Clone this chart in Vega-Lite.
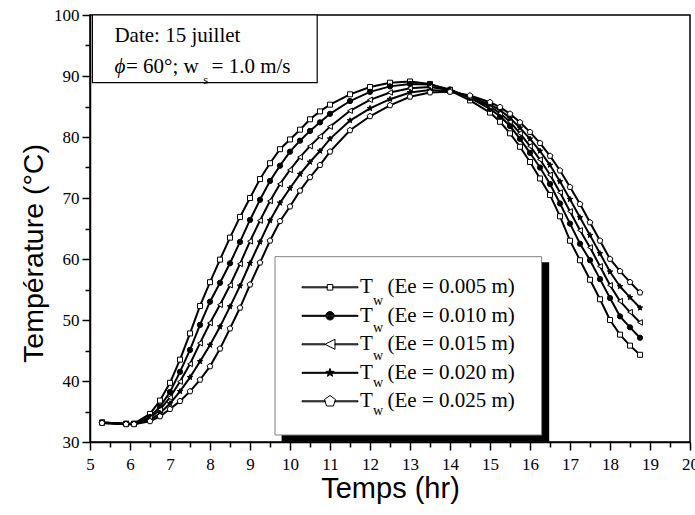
{
  "$schema": "https://vega.github.io/schema/vega-lite/v6.json",
  "width": 600,
  "height": 427,
  "autosize": {"type": "none"},
  "padding": {"left": 90, "top": 15, "right": 5, "bottom": 73},
  "background": "white",
  "config": {
    "view": {"stroke": "black", "strokeWidth": 1.5},
    "axis": {"grid": false, "labelFlush": false, "labelOverlap": false, "labelBound": false,
      "labelFont": "Liberation Serif", "labelFontSize": 17, "labelColor": "black",
      "domainColor": "black", "domainWidth": 1.5, "tickColor": "black", "tickWidth": 1.5,
      "titleFont": "Liberation Sans", "titleFontWeight": "normal", "titleColor": "black"},
    "axisX": {"labelPadding": 6, "titleFontSize": 29, "titlePadding": 2},
    "axisY": {"labelPadding": 3, "titleFontSize": 28.5, "titlePadding": 5}
  },
  "data": {"values": [
{"t":5.3,"s":"0.005","v":33.2},{"t":5.9,"s":"0.005","v":33.0},{"t":6.1,"s":"0.005","v":33.0},{"t":6.5,"s":"0.005","v":34.6},{"t":6.75,"s":"0.005","v":36.8},{"t":7,"s":"0.005","v":39.7},{"t":7.25,"s":"0.005","v":43.5},{"t":7.5,"s":"0.005","v":47.8},{"t":7.75,"s":"0.005","v":52.3},{"t":8,"s":"0.005","v":56.2},{"t":8.25,"s":"0.005","v":59.9},{"t":8.5,"s":"0.005","v":63.5},{"t":8.75,"s":"0.005","v":66.9},{"t":9,"s":"0.005","v":70.0},{"t":9.25,"s":"0.005","v":73.1},{"t":9.5,"s":"0.005","v":75.7},{"t":9.75,"s":"0.005","v":78.0},{"t":10,"s":"0.005","v":79.6},{"t":10.25,"s":"0.005","v":81.2},{"t":10.5,"s":"0.005","v":82.9},{"t":10.75,"s":"0.005","v":84.2},{"t":11,"s":"0.005","v":85.3},{"t":11.5,"s":"0.005","v":87.0},{"t":12,"s":"0.005","v":88.2},{"t":12.5,"s":"0.005","v":88.9},{"t":13,"s":"0.005","v":89.1},{"t":13.5,"s":"0.005","v":88.7},{"t":14,"s":"0.005","v":87.6},{"t":14.5,"s":"0.005","v":86.0},{"t":15,"s":"0.005","v":84.0},{"t":15.25,"s":"0.005","v":82.5},{"t":15.5,"s":"0.005","v":80.6},{"t":15.75,"s":"0.005","v":78.4},{"t":16,"s":"0.005","v":75.9},{"t":16.25,"s":"0.005","v":73.2},{"t":16.5,"s":"0.005","v":70.5},{"t":16.75,"s":"0.005","v":67.0},{"t":17,"s":"0.005","v":63.0},{"t":17.25,"s":"0.005","v":59.8},{"t":17.5,"s":"0.005","v":56.6},{"t":17.75,"s":"0.005","v":53.4},{"t":18,"s":"0.005","v":50.0},{"t":18.25,"s":"0.005","v":47.6},{"t":18.5,"s":"0.005","v":45.8},{"t":18.75,"s":"0.005","v":44.3},
{"t":5.3,"s":"0.010","v":33.2},{"t":5.9,"s":"0.010","v":33.0},{"t":6.1,"s":"0.010","v":33.0},{"t":6.5,"s":"0.010","v":34.1},{"t":6.75,"s":"0.010","v":35.8},{"t":7,"s":"0.010","v":38.2},{"t":7.25,"s":"0.010","v":41.5},{"t":7.5,"s":"0.010","v":45.1},{"t":7.75,"s":"0.010","v":49.2},{"t":8,"s":"0.010","v":53.0},{"t":8.25,"s":"0.010","v":56.1},{"t":8.5,"s":"0.010","v":59.3},{"t":8.75,"s":"0.010","v":62.8},{"t":9,"s":"0.010","v":66.4},{"t":9.25,"s":"0.010","v":69.7},{"t":9.5,"s":"0.010","v":72.8},{"t":9.75,"s":"0.010","v":75.3},{"t":10,"s":"0.010","v":77.6},{"t":10.25,"s":"0.010","v":79.4},{"t":10.5,"s":"0.010","v":81.0},{"t":10.75,"s":"0.010","v":82.4},{"t":11,"s":"0.010","v":83.8},{"t":11.5,"s":"0.010","v":85.9},{"t":12,"s":"0.010","v":87.4},{"t":12.5,"s":"0.010","v":88.3},{"t":13,"s":"0.010","v":88.7},{"t":13.5,"s":"0.010","v":88.6},{"t":14,"s":"0.010","v":87.8},{"t":14.5,"s":"0.010","v":86.4},{"t":15,"s":"0.010","v":84.6},{"t":15.25,"s":"0.010","v":83.4},{"t":15.5,"s":"0.010","v":81.8},{"t":15.75,"s":"0.010","v":79.7},{"t":16,"s":"0.010","v":77.4},{"t":16.25,"s":"0.010","v":75.0},{"t":16.5,"s":"0.010","v":72.3},{"t":16.75,"s":"0.010","v":69.1},{"t":17,"s":"0.010","v":65.8},{"t":17.25,"s":"0.010","v":62.5},{"t":17.5,"s":"0.010","v":59.8},{"t":17.75,"s":"0.010","v":56.7},{"t":18,"s":"0.010","v":53.6},{"t":18.25,"s":"0.010","v":50.6},{"t":18.5,"s":"0.010","v":48.8},{"t":18.75,"s":"0.010","v":47.1},
{"t":5.3,"s":"0.015","v":33.2},{"t":5.9,"s":"0.015","v":33.0},{"t":6.1,"s":"0.015","v":33.0},{"t":6.5,"s":"0.015","v":33.9},{"t":6.75,"s":"0.015","v":35.3},{"t":7,"s":"0.015","v":37.3},{"t":7.25,"s":"0.015","v":39.9},{"t":7.5,"s":"0.015","v":42.8},{"t":7.75,"s":"0.015","v":46.2},{"t":8,"s":"0.015","v":49.5},{"t":8.25,"s":"0.015","v":52.5},{"t":8.5,"s":"0.015","v":55.7},{"t":8.75,"s":"0.015","v":59.2},{"t":9,"s":"0.015","v":62.9},{"t":9.25,"s":"0.015","v":66.3},{"t":9.5,"s":"0.015","v":69.5},{"t":9.75,"s":"0.015","v":72.3},{"t":10,"s":"0.015","v":74.6},{"t":10.25,"s":"0.015","v":76.7},{"t":10.5,"s":"0.015","v":78.5},{"t":10.75,"s":"0.015","v":80.1},{"t":11,"s":"0.015","v":81.7},{"t":11.5,"s":"0.015","v":84.3},{"t":12,"s":"0.015","v":86.1},{"t":12.5,"s":"0.015","v":87.3},{"t":13,"s":"0.015","v":88.0},{"t":13.5,"s":"0.015","v":88.2},{"t":14,"s":"0.015","v":87.7},{"t":14.5,"s":"0.015","v":86.5},{"t":15,"s":"0.015","v":85.0},{"t":15.25,"s":"0.015","v":83.9},{"t":15.5,"s":"0.015","v":82.5},{"t":15.75,"s":"0.015","v":80.6},{"t":16,"s":"0.015","v":78.5},{"t":16.25,"s":"0.015","v":76.3},{"t":16.5,"s":"0.015","v":73.8},{"t":16.75,"s":"0.015","v":70.9},{"t":17,"s":"0.015","v":67.8},{"t":17.25,"s":"0.015","v":64.7},{"t":17.5,"s":"0.015","v":61.9},{"t":17.75,"s":"0.015","v":58.8},{"t":18,"s":"0.015","v":55.7},{"t":18.25,"s":"0.015","v":53.1},{"t":18.5,"s":"0.015","v":51.3},{"t":18.75,"s":"0.015","v":49.6},
{"t":5.3,"s":"0.020","v":33.1},{"t":5.9,"s":"0.020","v":32.9},{"t":6.1,"s":"0.020","v":32.9},{"t":6.5,"s":"0.020","v":33.6},{"t":6.75,"s":"0.020","v":34.7},{"t":7,"s":"0.020","v":36.3},{"t":7.25,"s":"0.020","v":38.3},{"t":7.5,"s":"0.020","v":40.6},{"t":7.75,"s":"0.020","v":43.2},{"t":8,"s":"0.020","v":45.9},{"t":8.25,"s":"0.020","v":48.9},{"t":8.5,"s":"0.020","v":52.2},{"t":8.75,"s":"0.020","v":55.6},{"t":9,"s":"0.020","v":59.3},{"t":9.25,"s":"0.020","v":62.8},{"t":9.5,"s":"0.020","v":66.3},{"t":9.75,"s":"0.020","v":69.2},{"t":10,"s":"0.020","v":71.6},{"t":10.25,"s":"0.020","v":73.9},{"t":10.5,"s":"0.020","v":75.9},{"t":10.75,"s":"0.020","v":77.7},{"t":11,"s":"0.020","v":79.7},{"t":11.5,"s":"0.020","v":82.7},{"t":12,"s":"0.020","v":84.7},{"t":12.5,"s":"0.020","v":86.2},{"t":13,"s":"0.020","v":87.3},{"t":13.5,"s":"0.020","v":87.7},{"t":14,"s":"0.020","v":87.5},{"t":14.5,"s":"0.020","v":86.7},{"t":15,"s":"0.020","v":85.3},{"t":15.25,"s":"0.020","v":84.4},{"t":15.5,"s":"0.020","v":83.1},{"t":15.75,"s":"0.020","v":81.5},{"t":16,"s":"0.020","v":79.7},{"t":16.25,"s":"0.020","v":77.7},{"t":16.5,"s":"0.020","v":75.4},{"t":16.75,"s":"0.020","v":72.7},{"t":17,"s":"0.020","v":69.8},{"t":17.25,"s":"0.020","v":66.8},{"t":17.5,"s":"0.020","v":63.9},{"t":17.75,"s":"0.020","v":60.9},{"t":18,"s":"0.020","v":57.9},{"t":18.25,"s":"0.020","v":55.5},{"t":18.5,"s":"0.020","v":53.7},{"t":18.75,"s":"0.020","v":52.0},
{"t":5.3,"s":"0.025","v":33.1},{"t":5.9,"s":"0.025","v":32.9},{"t":6.1,"s":"0.025","v":32.9},{"t":6.5,"s":"0.025","v":33.4},{"t":6.75,"s":"0.025","v":34.2},{"t":7,"s":"0.025","v":35.4},{"t":7.25,"s":"0.025","v":36.7},{"t":7.5,"s":"0.025","v":38.3},{"t":7.75,"s":"0.025","v":40.2},{"t":8,"s":"0.025","v":42.4},{"t":8.25,"s":"0.025","v":45.3},{"t":8.5,"s":"0.025","v":48.6},{"t":8.75,"s":"0.025","v":52.0},{"t":9,"s":"0.025","v":55.8},{"t":9.25,"s":"0.025","v":59.4},{"t":9.5,"s":"0.025","v":63.0},{"t":9.75,"s":"0.025","v":66.2},{"t":10,"s":"0.025","v":68.6},{"t":10.25,"s":"0.025","v":71.2},{"t":10.5,"s":"0.025","v":73.4},{"t":10.75,"s":"0.025","v":75.4},{"t":11,"s":"0.025","v":77.6},{"t":11.5,"s":"0.025","v":81.1},{"t":12,"s":"0.025","v":83.4},{"t":12.5,"s":"0.025","v":85.2},{"t":13,"s":"0.025","v":86.6},{"t":13.5,"s":"0.025","v":87.3},{"t":14,"s":"0.025","v":87.4},{"t":14.5,"s":"0.025","v":86.8},{"t":15,"s":"0.025","v":85.7},{"t":15.25,"s":"0.025","v":84.9},{"t":15.5,"s":"0.025","v":83.8},{"t":15.75,"s":"0.025","v":82.4},{"t":16,"s":"0.025","v":80.8},{"t":16.25,"s":"0.025","v":79.0},{"t":16.5,"s":"0.025","v":76.9},{"t":16.75,"s":"0.025","v":74.5},{"t":17,"s":"0.025","v":71.8},{"t":17.25,"s":"0.025","v":69.0},{"t":17.5,"s":"0.025","v":66.0},{"t":17.75,"s":"0.025","v":63.0},{"t":18,"s":"0.025","v":60.0},{"t":18.25,"s":"0.025","v":58.0},{"t":18.5,"s":"0.025","v":56.2},{"t":18.75,"s":"0.025","v":54.5}
  ]},
  "layer": [
    {"mark": {"type": "line", "color": "black", "strokeWidth": 2},
     "encoding": {
      "x": {"field": "t", "type": "quantitative", "title": "Temps (hr)", "scale": {"domain": [5, 20], "nice": false, "zero": false},
        "axis": {"values": [5,5.5,6,6.5,7,7.5,8,8.5,9,9.5,10,10.5,11,11.5,12,12.5,13,13.5,14,14.5,15,15.5,16,16.5,17,17.5,18,18.5,19,19.5,20], "labelExpr": "datum.value % 1 === 0 ? format(datum.value, 'd') : ''", "tickSize": {"condition": {"test": "datum.value % 1 === 0", "value": 8}, "value": 5}, "grid": false, "labelFlush": false, "labelOverlap": false, "labelBound": false, "labelFont": "Liberation Serif", "labelFontSize": 17, "labelColor": "black", "labelPadding": 6, "domainColor": "black", "domainWidth": 1.5, "tickColor": "black", "tickWidth": 1.5, "titleFont": "Liberation Sans", "titleFontSize": 29, "titleFontWeight": "normal", "titleColor": "black", "titlePadding": 2}},
      "y": {"field": "v", "type": "quantitative", "title": "Température (°C)", "scale": {"domain": [30, 100], "nice": false, "zero": false},
        "axis": {"values": [30,35,40,45,50,55,60,65,70,75,80,85,90,95,100], "labelExpr": "datum.value % 10 === 0 ? format(datum.value, 'd') : ''", "tickSize": {"condition": {"test": "datum.value % 10 === 0", "value": 8}, "value": 5}, "grid": false, "labelFlush": false, "labelOverlap": false, "labelBound": false, "labelFont": "Liberation Serif", "labelFontSize": 17, "labelColor": "black", "labelPadding": 3, "domainColor": "black", "domainWidth": 1.5, "tickColor": "black", "tickWidth": 1.5, "titleFont": "Liberation Sans", "titleFontSize": 28.5, "titleFontWeight": "normal", "titleColor": "black", "titlePadding": 5, "titleY": 238}},
      "detail": {"field": "s"}}},
    {"mark": {"type": "point", "filled": true, "stroke": "black", "strokeWidth": 1, "opacity": 1},
     "encoding": {
      "x": {"field": "t", "type": "quantitative", "title": "Temps (hr)", "scale": {"domain": [5, 20], "nice": false, "zero": false},
        "axis": {"values": [5,5.5,6,6.5,7,7.5,8,8.5,9,9.5,10,10.5,11,11.5,12,12.5,13,13.5,14,14.5,15,15.5,16,16.5,17,17.5,18,18.5,19,19.5,20], "labelExpr": "datum.value % 1 === 0 ? format(datum.value, 'd') : ''", "tickSize": {"condition": {"test": "datum.value % 1 === 0", "value": 8}, "value": 5}, "grid": false, "labelFlush": false, "labelOverlap": false, "labelBound": false, "labelFont": "Liberation Serif", "labelFontSize": 17, "labelColor": "black", "labelPadding": 6, "domainColor": "black", "domainWidth": 1.5, "tickColor": "black", "tickWidth": 1.5, "titleFont": "Liberation Sans", "titleFontSize": 29, "titleFontWeight": "normal", "titleColor": "black", "titlePadding": 2}},
      "y": {"field": "v", "type": "quantitative", "title": "Température (°C)", "scale": {"domain": [30, 100], "nice": false, "zero": false},
        "axis": {"values": [30,35,40,45,50,55,60,65,70,75,80,85,90,95,100], "labelExpr": "datum.value % 10 === 0 ? format(datum.value, 'd') : ''", "tickSize": {"condition": {"test": "datum.value % 10 === 0", "value": 8}, "value": 5}, "grid": false, "labelFlush": false, "labelOverlap": false, "labelBound": false, "labelFont": "Liberation Serif", "labelFontSize": 17, "labelColor": "black", "labelPadding": 3, "domainColor": "black", "domainWidth": 1.5, "tickColor": "black", "tickWidth": 1.5, "titleFont": "Liberation Sans", "titleFontSize": 28.5, "titleFontWeight": "normal", "titleColor": "black", "titlePadding": 5, "titleY": 238}},
       "shape": {"field": "s", "type": "nominal", "legend": null,
         "scale": {"range": ["square", "circle", "triangle-left", "M0,-1L0.235,-0.324L0.951,-0.309L0.38,0.124L0.588,0.809L0,0.4L-0.588,0.809L-0.38,0.124L-0.951,-0.309L-0.235,-0.324Z", "M0,-1L0.951,-0.309L0.588,0.809L-0.588,0.809L-0.951,-0.309Z"]}},
       "fill": {"field": "s", "type": "nominal", "legend": null, "scale": {"range": ["white", "black", "white", "black", "white"]}},
       "size": {"field": "s", "type": "nominal", "legend": null, "scale": {"range": [25, 36, 70, 70, 80]}}
     }},
    {"data": {"values": [{"k": 1}]}, "mark": {"type": "rect", "fill": "black"},
     "encoding": {
      "x": {"datum": 9.79, "type": "quantitative", "title": "Temps (hr)", "scale": {"domain": [5, 20], "nice": false, "zero": false},
        "axis": {"values": [5,5.5,6,6.5,7,7.5,8,8.5,9,9.5,10,10.5,11,11.5,12,12.5,13,13.5,14,14.5,15,15.5,16,16.5,17,17.5,18,18.5,19,19.5,20], "labelExpr": "datum.value % 1 === 0 ? format(datum.value, 'd') : ''", "tickSize": {"condition": {"test": "datum.value % 1 === 0", "value": 8}, "value": 5}, "grid": false, "labelFlush": false, "labelOverlap": false, "labelBound": false, "labelFont": "Liberation Serif", "labelFontSize": 17, "labelColor": "black", "labelPadding": 6, "domainColor": "black", "domainWidth": 1.5, "tickColor": "black", "tickWidth": 1.5, "titleFont": "Liberation Sans", "titleFontSize": 29, "titleFontWeight": "normal", "titleColor": "black", "titlePadding": 2}},
      "y": {"datum": 59.46, "type": "quantitative", "title": "Température (°C)", "scale": {"domain": [30, 100], "nice": false, "zero": false},
        "axis": {"values": [30,35,40,45,50,55,60,65,70,75,80,85,90,95,100], "labelExpr": "datum.value % 10 === 0 ? format(datum.value, 'd') : ''", "tickSize": {"condition": {"test": "datum.value % 10 === 0", "value": 8}, "value": 5}, "grid": false, "labelFlush": false, "labelOverlap": false, "labelBound": false, "labelFont": "Liberation Serif", "labelFontSize": 17, "labelColor": "black", "labelPadding": 3, "domainColor": "black", "domainWidth": 1.5, "tickColor": "black", "tickWidth": 1.5, "titleFont": "Liberation Sans", "titleFontSize": 28.5, "titleFontWeight": "normal", "titleColor": "black", "titlePadding": 5, "titleY": 238}},
      "x2": {"datum": 16.48}, "y2": {"datum": 30.05}}},
    {"data": {"values": [{"k": 1}]}, "mark": {"type": "rect", "fill": "white", "stroke": "#808080", "strokeWidth": 1},
     "encoding": {
      "x": {"datum": 9.625, "type": "quantitative", "title": "Temps (hr)", "scale": {"domain": [5, 20], "nice": false, "zero": false},
        "axis": {"values": [5,5.5,6,6.5,7,7.5,8,8.5,9,9.5,10,10.5,11,11.5,12,12.5,13,13.5,14,14.5,15,15.5,16,16.5,17,17.5,18,18.5,19,19.5,20], "labelExpr": "datum.value % 1 === 0 ? format(datum.value, 'd') : ''", "tickSize": {"condition": {"test": "datum.value % 1 === 0", "value": 8}, "value": 5}, "grid": false, "labelFlush": false, "labelOverlap": false, "labelBound": false, "labelFont": "Liberation Serif", "labelFontSize": 17, "labelColor": "black", "labelPadding": 6, "domainColor": "black", "domainWidth": 1.5, "tickColor": "black", "tickWidth": 1.5, "titleFont": "Liberation Sans", "titleFontSize": 29, "titleFontWeight": "normal", "titleColor": "black", "titlePadding": 2}},
      "y": {"datum": 60.38, "type": "quantitative", "title": "Température (°C)", "scale": {"domain": [30, 100], "nice": false, "zero": false},
        "axis": {"values": [30,35,40,45,50,55,60,65,70,75,80,85,90,95,100], "labelExpr": "datum.value % 10 === 0 ? format(datum.value, 'd') : ''", "tickSize": {"condition": {"test": "datum.value % 10 === 0", "value": 8}, "value": 5}, "grid": false, "labelFlush": false, "labelOverlap": false, "labelBound": false, "labelFont": "Liberation Serif", "labelFontSize": 17, "labelColor": "black", "labelPadding": 3, "domainColor": "black", "domainWidth": 1.5, "tickColor": "black", "tickWidth": 1.5, "titleFont": "Liberation Sans", "titleFontSize": 28.5, "titleFontWeight": "normal", "titleColor": "black", "titlePadding": 5, "titleY": 238}},
      "x2": {"datum": 16.29}, "y2": {"datum": 31.15}}},
    {"data": {"values": [{"k": 1}]}, "mark": {"type": "rect", "fill": "white", "stroke": "black", "strokeWidth": 1.2},
     "encoding": {
      "x": {"datum": 5.06, "type": "quantitative", "title": "Temps (hr)", "scale": {"domain": [5, 20], "nice": false, "zero": false},
        "axis": {"values": [5,5.5,6,6.5,7,7.5,8,8.5,9,9.5,10,10.5,11,11.5,12,12.5,13,13.5,14,14.5,15,15.5,16,16.5,17,17.5,18,18.5,19,19.5,20], "labelExpr": "datum.value % 1 === 0 ? format(datum.value, 'd') : ''", "tickSize": {"condition": {"test": "datum.value % 1 === 0", "value": 8}, "value": 5}, "grid": false, "labelFlush": false, "labelOverlap": false, "labelBound": false, "labelFont": "Liberation Serif", "labelFontSize": 17, "labelColor": "black", "labelPadding": 6, "domainColor": "black", "domainWidth": 1.5, "tickColor": "black", "tickWidth": 1.5, "titleFont": "Liberation Sans", "titleFontSize": 29, "titleFontWeight": "normal", "titleColor": "black", "titlePadding": 2}},
      "y": {"datum": 100, "type": "quantitative", "title": "Température (°C)", "scale": {"domain": [30, 100], "nice": false, "zero": false},
        "axis": {"values": [30,35,40,45,50,55,60,65,70,75,80,85,90,95,100], "labelExpr": "datum.value % 10 === 0 ? format(datum.value, 'd') : ''", "tickSize": {"condition": {"test": "datum.value % 10 === 0", "value": 8}, "value": 5}, "grid": false, "labelFlush": false, "labelOverlap": false, "labelBound": false, "labelFont": "Liberation Serif", "labelFontSize": 17, "labelColor": "black", "labelPadding": 3, "domainColor": "black", "domainWidth": 1.5, "tickColor": "black", "tickWidth": 1.5, "titleFont": "Liberation Sans", "titleFontSize": 28.5, "titleFontWeight": "normal", "titleColor": "black", "titlePadding": 5, "titleY": 238}},
      "x2": {"datum": 10.68}, "y2": {"datum": 88.9}}},
    {"data": {"values": [{"k": 1}]}, "mark": {"type": "text", "text": "Date: 15 juillet", "align": "left", "baseline": "alphabetic", "font": "Liberation Serif", "fontSize": 21, "color": "black"},
     "encoding": {
      "x": {"datum": 5.61, "type": "quantitative", "title": "Temps (hr)", "scale": {"domain": [5, 20], "nice": false, "zero": false},
        "axis": {"values": [5,5.5,6,6.5,7,7.5,8,8.5,9,9.5,10,10.5,11,11.5,12,12.5,13,13.5,14,14.5,15,15.5,16,16.5,17,17.5,18,18.5,19,19.5,20], "labelExpr": "datum.value % 1 === 0 ? format(datum.value, 'd') : ''", "tickSize": {"condition": {"test": "datum.value % 1 === 0", "value": 8}, "value": 5}, "grid": false, "labelFlush": false, "labelOverlap": false, "labelBound": false, "labelFont": "Liberation Serif", "labelFontSize": 17, "labelColor": "black", "labelPadding": 6, "domainColor": "black", "domainWidth": 1.5, "tickColor": "black", "tickWidth": 1.5, "titleFont": "Liberation Sans", "titleFontSize": 29, "titleFontWeight": "normal", "titleColor": "black", "titlePadding": 2}},
      "y": {"datum": 95.62, "type": "quantitative", "title": "Température (°C)", "scale": {"domain": [30, 100], "nice": false, "zero": false},
        "axis": {"values": [30,35,40,45,50,55,60,65,70,75,80,85,90,95,100], "labelExpr": "datum.value % 10 === 0 ? format(datum.value, 'd') : ''", "tickSize": {"condition": {"test": "datum.value % 10 === 0", "value": 8}, "value": 5}, "grid": false, "labelFlush": false, "labelOverlap": false, "labelBound": false, "labelFont": "Liberation Serif", "labelFontSize": 17, "labelColor": "black", "labelPadding": 3, "domainColor": "black", "domainWidth": 1.5, "tickColor": "black", "tickWidth": 1.5, "titleFont": "Liberation Sans", "titleFontSize": 28.5, "titleFontWeight": "normal", "titleColor": "black", "titlePadding": 5, "titleY": 238}}}},
    {"data": {"values": [{"k": 1}]}, "mark": {"type": "text", "text": "ϕ", "align": "left", "baseline": "alphabetic", "font": "Liberation Serif", "fontStyle": "italic", "fontSize": 21, "color": "black"},
     "encoding": {
      "x": {"datum": 5.61, "type": "quantitative", "title": "Temps (hr)", "scale": {"domain": [5, 20], "nice": false, "zero": false},
        "axis": {"values": [5,5.5,6,6.5,7,7.5,8,8.5,9,9.5,10,10.5,11,11.5,12,12.5,13,13.5,14,14.5,15,15.5,16,16.5,17,17.5,18,18.5,19,19.5,20], "labelExpr": "datum.value % 1 === 0 ? format(datum.value, 'd') : ''", "tickSize": {"condition": {"test": "datum.value % 1 === 0", "value": 8}, "value": 5}, "grid": false, "labelFlush": false, "labelOverlap": false, "labelBound": false, "labelFont": "Liberation Serif", "labelFontSize": 17, "labelColor": "black", "labelPadding": 6, "domainColor": "black", "domainWidth": 1.5, "tickColor": "black", "tickWidth": 1.5, "titleFont": "Liberation Sans", "titleFontSize": 29, "titleFontWeight": "normal", "titleColor": "black", "titlePadding": 2}},
      "y": {"datum": 90.44, "type": "quantitative", "title": "Température (°C)", "scale": {"domain": [30, 100], "nice": false, "zero": false},
        "axis": {"values": [30,35,40,45,50,55,60,65,70,75,80,85,90,95,100], "labelExpr": "datum.value % 10 === 0 ? format(datum.value, 'd') : ''", "tickSize": {"condition": {"test": "datum.value % 10 === 0", "value": 8}, "value": 5}, "grid": false, "labelFlush": false, "labelOverlap": false, "labelBound": false, "labelFont": "Liberation Serif", "labelFontSize": 17, "labelColor": "black", "labelPadding": 3, "domainColor": "black", "domainWidth": 1.5, "tickColor": "black", "tickWidth": 1.5, "titleFont": "Liberation Sans", "titleFontSize": 28.5, "titleFontWeight": "normal", "titleColor": "black", "titlePadding": 5, "titleY": 238}}}},
    {"data": {"values": [{"k": 1}]}, "mark": {"type": "text", "text": "= 60°; w", "align": "left", "baseline": "alphabetic", "font": "Liberation Serif", "fontSize": 21, "color": "black"},
     "encoding": {
      "x": {"datum": 5.9, "type": "quantitative", "title": "Temps (hr)", "scale": {"domain": [5, 20], "nice": false, "zero": false},
        "axis": {"values": [5,5.5,6,6.5,7,7.5,8,8.5,9,9.5,10,10.5,11,11.5,12,12.5,13,13.5,14,14.5,15,15.5,16,16.5,17,17.5,18,18.5,19,19.5,20], "labelExpr": "datum.value % 1 === 0 ? format(datum.value, 'd') : ''", "tickSize": {"condition": {"test": "datum.value % 1 === 0", "value": 8}, "value": 5}, "grid": false, "labelFlush": false, "labelOverlap": false, "labelBound": false, "labelFont": "Liberation Serif", "labelFontSize": 17, "labelColor": "black", "labelPadding": 6, "domainColor": "black", "domainWidth": 1.5, "tickColor": "black", "tickWidth": 1.5, "titleFont": "Liberation Sans", "titleFontSize": 29, "titleFontWeight": "normal", "titleColor": "black", "titlePadding": 2}},
      "y": {"datum": 90.44, "type": "quantitative", "title": "Température (°C)", "scale": {"domain": [30, 100], "nice": false, "zero": false},
        "axis": {"values": [30,35,40,45,50,55,60,65,70,75,80,85,90,95,100], "labelExpr": "datum.value % 10 === 0 ? format(datum.value, 'd') : ''", "tickSize": {"condition": {"test": "datum.value % 10 === 0", "value": 8}, "value": 5}, "grid": false, "labelFlush": false, "labelOverlap": false, "labelBound": false, "labelFont": "Liberation Serif", "labelFontSize": 17, "labelColor": "black", "labelPadding": 3, "domainColor": "black", "domainWidth": 1.5, "tickColor": "black", "tickWidth": 1.5, "titleFont": "Liberation Sans", "titleFontSize": 28.5, "titleFontWeight": "normal", "titleColor": "black", "titlePadding": 5, "titleY": 238}}}},
    {"data": {"values": [{"k": 1}]}, "mark": {"type": "text", "text": "s", "align": "left", "baseline": "alphabetic", "font": "Liberation Serif", "fontSize": 13, "color": "black"},
     "encoding": {
      "x": {"datum": 7.83, "type": "quantitative", "title": "Temps (hr)", "scale": {"domain": [5, 20], "nice": false, "zero": false},
        "axis": {"values": [5,5.5,6,6.5,7,7.5,8,8.5,9,9.5,10,10.5,11,11.5,12,12.5,13,13.5,14,14.5,15,15.5,16,16.5,17,17.5,18,18.5,19,19.5,20], "labelExpr": "datum.value % 1 === 0 ? format(datum.value, 'd') : ''", "tickSize": {"condition": {"test": "datum.value % 1 === 0", "value": 8}, "value": 5}, "grid": false, "labelFlush": false, "labelOverlap": false, "labelBound": false, "labelFont": "Liberation Serif", "labelFontSize": 17, "labelColor": "black", "labelPadding": 6, "domainColor": "black", "domainWidth": 1.5, "tickColor": "black", "tickWidth": 1.5, "titleFont": "Liberation Sans", "titleFontSize": 29, "titleFontWeight": "normal", "titleColor": "black", "titlePadding": 2}},
      "y": {"datum": 88.69, "type": "quantitative", "title": "Température (°C)", "scale": {"domain": [30, 100], "nice": false, "zero": false},
        "axis": {"values": [30,35,40,45,50,55,60,65,70,75,80,85,90,95,100], "labelExpr": "datum.value % 10 === 0 ? format(datum.value, 'd') : ''", "tickSize": {"condition": {"test": "datum.value % 10 === 0", "value": 8}, "value": 5}, "grid": false, "labelFlush": false, "labelOverlap": false, "labelBound": false, "labelFont": "Liberation Serif", "labelFontSize": 17, "labelColor": "black", "labelPadding": 3, "domainColor": "black", "domainWidth": 1.5, "tickColor": "black", "tickWidth": 1.5, "titleFont": "Liberation Sans", "titleFontSize": 28.5, "titleFontWeight": "normal", "titleColor": "black", "titlePadding": 5, "titleY": 238}}}},
    {"data": {"values": [{"k": 1}]}, "mark": {"type": "text", "text": "= 1.0 m/s", "align": "left", "baseline": "alphabetic", "font": "Liberation Serif", "fontSize": 21, "color": "black"},
     "encoding": {
      "x": {"datum": 8.04, "type": "quantitative", "title": "Temps (hr)", "scale": {"domain": [5, 20], "nice": false, "zero": false},
        "axis": {"values": [5,5.5,6,6.5,7,7.5,8,8.5,9,9.5,10,10.5,11,11.5,12,12.5,13,13.5,14,14.5,15,15.5,16,16.5,17,17.5,18,18.5,19,19.5,20], "labelExpr": "datum.value % 1 === 0 ? format(datum.value, 'd') : ''", "tickSize": {"condition": {"test": "datum.value % 1 === 0", "value": 8}, "value": 5}, "grid": false, "labelFlush": false, "labelOverlap": false, "labelBound": false, "labelFont": "Liberation Serif", "labelFontSize": 17, "labelColor": "black", "labelPadding": 6, "domainColor": "black", "domainWidth": 1.5, "tickColor": "black", "tickWidth": 1.5, "titleFont": "Liberation Sans", "titleFontSize": 29, "titleFontWeight": "normal", "titleColor": "black", "titlePadding": 2}},
      "y": {"datum": 90.44, "type": "quantitative", "title": "Température (°C)", "scale": {"domain": [30, 100], "nice": false, "zero": false},
        "axis": {"values": [30,35,40,45,50,55,60,65,70,75,80,85,90,95,100], "labelExpr": "datum.value % 10 === 0 ? format(datum.value, 'd') : ''", "tickSize": {"condition": {"test": "datum.value % 10 === 0", "value": 8}, "value": 5}, "grid": false, "labelFlush": false, "labelOverlap": false, "labelBound": false, "labelFont": "Liberation Serif", "labelFontSize": 17, "labelColor": "black", "labelPadding": 3, "domainColor": "black", "domainWidth": 1.5, "tickColor": "black", "tickWidth": 1.5, "titleFont": "Liberation Sans", "titleFontSize": 28.5, "titleFontWeight": "normal", "titleColor": "black", "titlePadding": 5, "titleY": 238}}}},
    {"mark": {"type": "point", "filled": true, "stroke": "black", "strokeWidth": 1, "size": 0},
     "encoding": {
      "x": {"field": "t", "type": "quantitative", "title": "Temps (hr)", "scale": {"domain": [5, 20], "nice": false, "zero": false},
        "axis": {"values": [5,5.5,6,6.5,7,7.5,8,8.5,9,9.5,10,10.5,11,11.5,12,12.5,13,13.5,14,14.5,15,15.5,16,16.5,17,17.5,18,18.5,19,19.5,20], "labelExpr": "datum.value % 1 === 0 ? format(datum.value, 'd') : ''", "tickSize": {"condition": {"test": "datum.value % 1 === 0", "value": 8}, "value": 5}, "grid": false, "labelFlush": false, "labelOverlap": false, "labelBound": false, "labelFont": "Liberation Serif", "labelFontSize": 17, "labelColor": "black", "labelPadding": 6, "domainColor": "black", "domainWidth": 1.5, "tickColor": "black", "tickWidth": 1.5, "titleFont": "Liberation Sans", "titleFontSize": 29, "titleFontWeight": "normal", "titleColor": "black", "titlePadding": 2}},
      "y": {"field": "v", "type": "quantitative", "title": "Température (°C)", "scale": {"domain": [30, 100], "nice": false, "zero": false},
        "axis": {"values": [30,35,40,45,50,55,60,65,70,75,80,85,90,95,100], "labelExpr": "datum.value % 10 === 0 ? format(datum.value, 'd') : ''", "tickSize": {"condition": {"test": "datum.value % 10 === 0", "value": 8}, "value": 5}, "grid": false, "labelFlush": false, "labelOverlap": false, "labelBound": false, "labelFont": "Liberation Serif", "labelFontSize": 17, "labelColor": "black", "labelPadding": 3, "domainColor": "black", "domainWidth": 1.5, "tickColor": "black", "tickWidth": 1.5, "titleFont": "Liberation Sans", "titleFontSize": 28.5, "titleFontWeight": "normal", "titleColor": "black", "titlePadding": 5, "titleY": 238}},
       "shape": {"field": "s", "type": "nominal",
         "scale": {"range": [
           "M-7,-0.125H-0.7V0.125H-7Z M0.7,-0.125H7V0.125H0.7Z M-0.7,-0.7H0.7V0.7H-0.7Z",
           "M-7,-0.125H7V0.125H-7Z M-1.05,0A1.05,1.05,0,1,0,1.05,0A1.05,1.05,0,1,0,-1.05,0Z",
           "M-7,-0.125H-1.25V0.125H-7Z M1.25,-0.125H7V0.125H1.25Z M-1.25,0L1.25,-1.25L1.25,1.25Z",
           "M-7,-0.125H7V0.125H-7Z M0,-1.1L0.26,-0.36L1.05,-0.34L0.42,0.14L0.65,0.89L0,0.44L-0.65,0.89L-0.42,0.14L-1.05,-0.34L-0.26,-0.36Z",
           "M-7,-0.125H-1.23V0.125H-7Z M1.23,-0.125H7V0.125H1.23Z M0,-1.45L1.379,-0.448L0.852,1.173L-0.852,1.173L-1.379,-0.448Z"]},
         "legend": {"orient": "none", "legendX": 229.5, "legendY": 261.8, "title": null, "padding": 0,
           "labelExpr": "'T\u00a0\u00a0\u2009(Ee = ' + datum.label + ' m)'", "labelFont": "Liberation Serif", "labelFontSize": 21, "labelColor": "black", "labelLimit": 400,
           "labelOffset": 19.5, "symbolSize": 64, "symbolStrokeColor": "black", "symbolStrokeWidth": 1, "symbolOpacity": 1, "rowPadding": 6.5,
           "encode": {"symbols": {"update": {"stroke": {"value": "black"}, "strokeWidth": {"value": 1}}}}}},
       "fill": {"field": "s", "type": "nominal", "scale": {"range": ["white", "black", "white", "black", "white"]},
         "legend": {"orient": "none", "legendX": 229.5, "legendY": 261.8, "title": null, "padding": 0,
           "labelExpr": "'T\u00a0\u00a0\u2009(Ee = ' + datum.label + ' m)'", "labelFont": "Liberation Serif", "labelFontSize": 21, "labelColor": "black", "labelLimit": 400,
           "labelOffset": 19.5, "symbolSize": 64, "symbolStrokeColor": "black", "symbolStrokeWidth": 1, "symbolOpacity": 1, "rowPadding": 6.5,
           "encode": {"symbols": {"update": {"stroke": {"value": "black"}, "strokeWidth": {"value": 1}}}}}}
     }},
    {"mark": {"type": "point", "filled": true, "size": 0, "color": "transparent", "stroke": "transparent"},
     "encoding": {
      "x": {"field": "t", "type": "quantitative", "title": "Temps (hr)", "scale": {"domain": [5, 20], "nice": false, "zero": false},
        "axis": {"values": [5,5.5,6,6.5,7,7.5,8,8.5,9,9.5,10,10.5,11,11.5,12,12.5,13,13.5,14,14.5,15,15.5,16,16.5,17,17.5,18,18.5,19,19.5,20], "labelExpr": "datum.value % 1 === 0 ? format(datum.value, 'd') : ''", "tickSize": {"condition": {"test": "datum.value % 1 === 0", "value": 8}, "value": 5}, "grid": false, "labelFlush": false, "labelOverlap": false, "labelBound": false, "labelFont": "Liberation Serif", "labelFontSize": 17, "labelColor": "black", "labelPadding": 6, "domainColor": "black", "domainWidth": 1.5, "tickColor": "black", "tickWidth": 1.5, "titleFont": "Liberation Sans", "titleFontSize": 29, "titleFontWeight": "normal", "titleColor": "black", "titlePadding": 2}},
      "y": {"field": "v", "type": "quantitative", "title": "Température (°C)", "scale": {"domain": [30, 100], "nice": false, "zero": false},
        "axis": {"values": [30,35,40,45,50,55,60,65,70,75,80,85,90,95,100], "labelExpr": "datum.value % 10 === 0 ? format(datum.value, 'd') : ''", "tickSize": {"condition": {"test": "datum.value % 10 === 0", "value": 8}, "value": 5}, "grid": false, "labelFlush": false, "labelOverlap": false, "labelBound": false, "labelFont": "Liberation Serif", "labelFontSize": 17, "labelColor": "black", "labelPadding": 3, "domainColor": "black", "domainWidth": 1.5, "tickColor": "black", "tickWidth": 1.5, "titleFont": "Liberation Sans", "titleFontSize": 28.5, "titleFontWeight": "normal", "titleColor": "black", "titlePadding": 5, "titleY": 238}},
       "shape": {"field": "s", "type": "nominal",
         "scale": {"domain": ["0.005", "0.010", "0.015", "0.020", "0.025"], "range": ["circle"]},
         "legend": {"orient": "none", "legendX": 229.5, "legendY": 275, "title": null, "padding": 0,
           "labelExpr": "'w'", "labelFont": "Liberation Serif", "labelFontSize": 14, "labelColor": "black",
           "labelOffset": 32.5, "symbolSize": 441, "symbolStrokeWidth": 0, "symbolFillColor": "transparent", "symbolStrokeColor": "transparent", "rowPadding": 6.5,
           "encode": {"symbols": {"update": {"fill": {"value": "transparent"}, "stroke": {"value": "transparent"}}}}}}
     }}
  ],
  "resolve": {"scale": {"shape": "independent", "fill": "independent", "size": "independent"}}
}
